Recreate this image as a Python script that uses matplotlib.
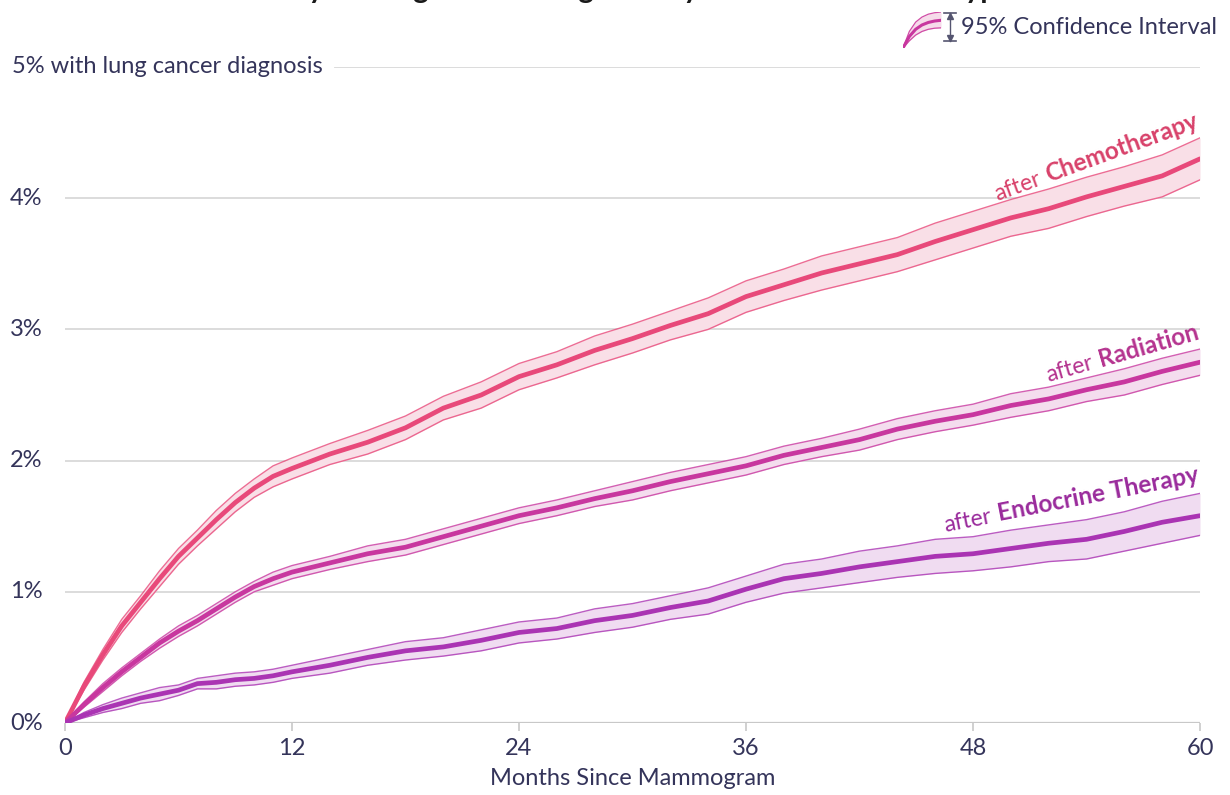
import math
import matplotlib.pyplot as plt
from matplotlib.lines import Line2D
from matplotlib.transforms import IdentityTransform

plt.rcParams['font.family'] = ['Lato', 'DejaVu Sans']

months = [0, 1, 2, 3, 4, 5, 6, 7, 8, 9, 10, 11, 12, 14, 16, 18, 20, 22, 24, 26, 28, 30,
          32, 34, 36, 38, 40, 42, 44, 46, 48, 50, 52, 54, 56, 58, 60]

chemo = [0, .28, .52, .74, .92, 1.10, 1.27, 1.41, 1.55, 1.68, 1.79, 1.88, 1.94, 2.05, 2.14,
         2.25, 2.40, 2.50, 2.64, 2.73, 2.84, 2.93, 3.03, 3.12, 3.25, 3.34, 3.43, 3.50, 3.57,
         3.67, 3.76, 3.85, 3.92, 4.01, 4.09, 4.17, 4.30]
chemo_hi = [0, .31, .56, .79, .97, 1.16, 1.33, 1.47, 1.62, 1.75, 1.86, 1.96, 2.02, 2.13, 2.23,
            2.34, 2.49, 2.60, 2.74, 2.83, 2.95, 3.04, 3.14, 3.24, 3.37, 3.46, 3.56, 3.63, 3.70,
            3.81, 3.90, 3.99, 4.07, 4.16, 4.24, 4.33, 4.46]
chemo_lo = [0, .25, .48, .69, .87, 1.04, 1.21, 1.35, 1.48, 1.61, 1.72, 1.80, 1.86, 1.97, 2.05,
            2.16, 2.31, 2.40, 2.54, 2.63, 2.73, 2.82, 2.92, 3.00, 3.13, 3.22, 3.30, 3.37, 3.44,
            3.53, 3.62, 3.71, 3.77, 3.86, 3.94, 4.01, 4.14]

radiation = [0, .14, .27, .39, .50, .61, .70, .78, .87, .96, 1.04, 1.10, 1.15, 1.22, 1.29,
             1.34, 1.42, 1.50, 1.58, 1.64, 1.71, 1.77, 1.84, 1.90, 1.96, 2.04, 2.10, 2.16,
             2.24, 2.30, 2.35, 2.42, 2.47, 2.54, 2.60, 2.68, 2.75]
radiation_hi = [0, .16, .30, .42, .53, .64, .74, .82, .91, 1.00, 1.08, 1.15, 1.20, 1.27, 1.35,
                1.40, 1.48, 1.56, 1.64, 1.70, 1.77, 1.84, 1.91, 1.97, 2.03, 2.11, 2.17, 2.24,
                2.32, 2.38, 2.43, 2.51, 2.56, 2.63, 2.70, 2.78, 2.85]
radiation_lo = [0, .12, .24, .36, .47, .57, .66, .74, .83, .92, 1.00, 1.05, 1.10, 1.17, 1.23,
                1.28, 1.36, 1.44, 1.52, 1.58, 1.65, 1.70, 1.77, 1.83, 1.89, 1.97, 2.03, 2.08,
                2.16, 2.22, 2.27, 2.33, 2.38, 2.45, 2.50, 2.58, 2.65]

endocrine = [0, .06, .11, .15, .19, .22, .25, .30, .31, .33, .34, .36, .39, .44, .50, .55,
             .58, .63, .69, .72, .78, .82, .88, .93, 1.02, 1.10, 1.14, 1.19, 1.23, 1.27, 1.29,
             1.33, 1.37, 1.40, 1.46, 1.53, 1.58]
endocrine_hi = [0, .08, .14, .19, .23, .27, .29, .34, .36, .38, .39, .41, .44, .50, .56, .62,
                .65, .71, .77, .80, .87, .91, .97, 1.03, 1.12, 1.21, 1.25, 1.31, 1.35, 1.40,
                1.42, 1.47, 1.51, 1.55, 1.61, 1.69, 1.75]
endocrine_lo = [0, .04, .08, .11, .15, .17, .21, .26, .26, .28, .29, .31, .34, .38, .44, .48,
                .51, .55, .61, .64, .69, .73, .79, .83, .92, .99, 1.03, 1.07, 1.11, 1.14,
                1.16, 1.19, 1.23, 1.25, 1.31, 1.37, 1.43]

series = [
    ("Chemotherapy", chemo, chemo_lo, chemo_hi, "#e8497a", "#f9dfe7", "#d8416a", 20),
    ("Radiation", radiation, radiation_lo, radiation_hi, "#c8379f", "#f4ddee", "#b5338f", 16),
    ("Endocrine Therapy", endocrine, endocrine_lo, endocrine_hi, "#aa34b3", "#f0dcf1", "#9a2b9c", 11),
]

x_ticks = [0, 12, 24, 36, 48, 60]
y_ticks = [0, 1, 2, 3, 4]

title = "Probability of Lung Cancer Diagnosis by Cancer Treatment Type"

text_col = "#34345a"
grid_col = "#d9d9d9"
fs = 17

fig = plt.figure(figsize=(12.3, 7.95), dpi=100)
ax = fig.add_axes([65 / 1230, 72 / 795, 1135 / 1230, 656 / 795])
ax.set_xlim(0, 60)
ax.set_ylim(0, 5)

# title runs off the top of the canvas in the reference, only descenders show
fig.text(1012 / 1230, 1 + 1.5 / 795, title, fontsize=21, fontweight="bold", color="#1a1a1a",
         ha="right", va="baseline")

for s in ax.spines.values():
    s.set_visible(False)
ax.axhline(0, color="#c8c8c8", lw=1.6, zorder=1)
for v in y_ticks[1:]:
    ax.axhline(v, color=grid_col, lw=1.3, zorder=0)
ax.axhline(5, xmin=270 / 1135, color=grid_col, lw=1.3, zorder=0)

ax.set_yticks([])
ax.set_xticks(x_ticks)
ax.set_xticklabels([str(t) for t in x_ticks], fontsize=fs, color=text_col)
ax.tick_params(axis="x", length=6, width=1.2, color="#c8c8c8", pad=5)
ax.set_xlabel("Months Since Mammogram", fontsize=fs, color=text_col, labelpad=6)

for v in y_ticks:
    ax.text(-55 / 1135 * 60, v, f"{v}%", fontsize=fs, color=text_col, va="center", ha="left",
            clip_on=False)
ax.text(-53 / 1135 * 60, 5, "5% with lung cancer diagnosis", fontsize=fs, color=text_col,
        va="center", ha="left", clip_on=False)

for name, mid, lo, hi, col, fill, lab_col, ang in series:
    ax.fill_between(months, lo, hi, color=fill, lw=0, zorder=2)
    ax.plot(months, lo, color=col, lw=1.0, alpha=0.8, zorder=3)
    ax.plot(months, hi, color=col, lw=1.0, alpha=0.8, zorder=3)
    ax.plot(months, mid, color=col, lw=3.4, zorder=4, solid_capstyle="round")

# labels along the end of each curve: "after" regular + name bold
fig.canvas.draw()
renderer = fig.canvas.get_renderer()
for name, mid, lo, hi, col, fill, lab_col, ang in series:
    px, py = ax.transData.transform((60, hi[-1]))
    py += 11
    tmp = fig.text(0, 0, name, fontsize=17.5, fontweight="bold")
    w = tmp.get_window_extent(renderer).width
    tmp.remove()
    fig.text(px, py, name, fontsize=17.5, fontweight="bold", color=lab_col, rotation=ang,
             rotation_mode="anchor", ha="right", va="baseline", transform=IdentityTransform())
    a = math.radians(ang)
    fig.text(px - (w + 7) * math.cos(a), py - (w + 7) * math.sin(a), "after", fontsize=16.5,
             color=lab_col, rotation=ang, rotation_mode="anchor", ha="right", va="baseline",
             transform=IdentityTransform())

# legend icon
icon_x = [0, 1, 2, 3, 4, 5, 6]
icon_mid = [0, 1.6, 2.6, 3.2, 3.55, 3.75, 3.85]
icon_lo = [0, 1.0, 1.8, 2.3, 2.6, 2.75, 2.8]
icon_hi = [0, 2.3, 3.6, 4.3, 4.7, 4.9, 5.0]
iax = fig.add_axes([903 / 1230, 1 - 48 / 795, 38 / 1230, 36 / 795])
iax.fill_between(icon_x, icon_lo, icon_hi, color="#f6dbea", lw=0)
iax.plot(icon_x, icon_lo, color="#d04ca6", lw=0.9)
iax.plot(icon_x, icon_hi, color="#d04ca6", lw=0.9)
iax.plot(icon_x, icon_mid, color="#c8379f", lw=2.2)
iax.set_xlim(0, 6)
iax.set_ylim(0, 5)
iax.axis("off")

bx = 950 / 1230
for yy in (13, 41):
    fig.add_artist(Line2D([944 / 1230, 956 / 1230], [1 - yy / 795] * 2, color="#555570", lw=1.2))
fig.add_artist(Line2D([bx, bx], [1 - 41 / 795, 1 - 13 / 795], color="#555570", lw=1.0))
fig.add_artist(Line2D([bx], [1 - 16 / 795], marker="^", markersize=4, color="#555570"))
fig.add_artist(Line2D([bx], [1 - 38 / 795], marker="v", markersize=4, color="#555570"))
fig.text(961 / 1230, 1 - 27 / 795, "95% Confidence Interval", fontsize=fs, color=text_col,
         va="center", ha="left")

fig.savefig("out.png", dpi=100, facecolor="white")
